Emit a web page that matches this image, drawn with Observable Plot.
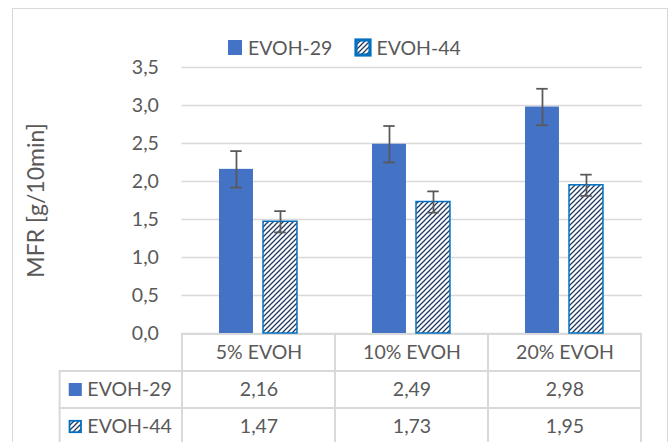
<!DOCTYPE html>
<html>
<head>
<meta charset="utf-8">
<script src="https://cdn.jsdelivr.net/npm/d3@7"></script>
<script src="https://cdn.jsdelivr.net/npm/@observablehq/plot@0.6"></script>
<style>
  html, body { margin: 0; padding: 0; background: white; }
  #wrap { position: relative; width: 671px; height: 442px; overflow: hidden; background: white; }
  #wrap > svg, #wrap > div.layer { position: absolute; left: 0; top: 0; }
  #border { position: absolute; left: 12px; top: 8px; width: 656px; height: 460px; border: 1.5px solid #d9d9d9; box-sizing: border-box; }
  .lg-swatches .lg-swatch { margin-right: 24px; }
  .lg-swatches .lg-swatch > svg { margin-right: 6px; }
</style>
</head>
<body>
<div id="wrap"><div id="border"></div></div>
<script>
const categories = ["5% EVOH", "10% EVOH", "20% EVOH"];
const series = ["EVOH-29", "EVOH-44"];
const evoh29 = [2.16, 2.49, 2.98];
const evoh44 = [1.47, 1.73, 1.95];
const err29 = [0.24, 0.24, 0.24];
const err44 = [0.14, 0.14, 0.14];
const yTicks = [0, 0.5, 1, 1.5, 2, 2.5, 3, 3.5];
const yLabel = "MFR [g/10min]";

const FONT = "Lato, 'Open Sans', sans-serif";
const TEXT = "#595959";
const GRID = "#d9d9d9";
const BLUE = "#4472C4";
const EDGE = "#0070C0";
const comma = (v, n) => v.toFixed(n).replace(".", ",");

const rows29 = categories.map((c, i) => ({cat: c, v: evoh29[i], e: err29[i]}));
const rows44 = categories.map((c, i) => ({cat: c, v: evoh44[i], e: err44[i]}));

const BW = (642 - 181.4) / 3;
const w = 34.5;
const s1 = 37, s2 = 81;
const c1 = s1 + w / 2, c2 = s2 + w / 2;

const chart = Plot.plot({
  width: 671, height: 442,
  marginTop: 67, marginBottom: 109, marginLeft: 181.4, marginRight: 29,
  style: {background: "transparent", fontFamily: FONT, overflow: "visible"},
  x: {type: "band", domain: categories, padding: 0, axis: null},
  y: {domain: [0, 3.5], ticks: yTicks},
  marks: [
    Plot.gridY(yTicks, {stroke: GRID, strokeOpacity: 1, strokeWidth: 1.5}),
    Plot.axisY(yTicks, {tickSize: 0, tickPadding: 23, fontSize: 19.5, fill: TEXT, label: null, tickFormat: d => comma(d, 1)}),
    Plot.text([yLabel], {frameAnchor: "left", textAnchor: "middle", dx: -145, rotate: -90, fontSize: 23, fill: TEXT}),
    Plot.barY(rows29, {x: "cat", y: "v", fill: BLUE, insetLeft: s1, insetRight: BW - s1 - w}),
    Plot.barY(rows44, {x: "cat", y: "v", fill: "url(#hatch)", stroke: EDGE, strokeWidth: 1.5, insetLeft: s2, insetRight: BW - s2 - w}),
    Plot.ruleX(rows29, {x: "cat", y1: d => d.v - d.e, y2: d => d.v + d.e, dx: c1 - BW / 2, stroke: TEXT, strokeWidth: 1.75}),
    Plot.ruleX(rows44, {x: "cat", y1: d => d.v - d.e, y2: d => d.v + d.e, dx: c2 - BW / 2, stroke: TEXT, strokeWidth: 1.75}),
    Plot.tickY(rows29, {x: "cat", y: d => d.v + d.e, insetLeft: c1 - 6, insetRight: BW - c1 - 6, stroke: TEXT, strokeWidth: 1.75}),
    Plot.tickY(rows29, {x: "cat", y: d => d.v - d.e, insetLeft: c1 - 6, insetRight: BW - c1 - 6, stroke: TEXT, strokeWidth: 1.75}),
    Plot.tickY(rows44, {x: "cat", y: d => d.v + d.e, insetLeft: c2 - 6, insetRight: BW - c2 - 6, stroke: TEXT, strokeWidth: 1.75}),
    Plot.tickY(rows44, {x: "cat", y: d => d.v - d.e, insetLeft: c2 - 6, insetRight: BW - c2 - 6, stroke: TEXT, strokeWidth: 1.75})
  ]
});

// hatch pattern
const defs = d3.select(chart).insert("defs", ":first-child");
const P = 5;
const pat = defs.append("pattern").attr("id", "hatch").attr("patternUnits", "userSpaceOnUse")
  .attr("width", P).attr("height", P);
pat.append("rect").attr("width", P).attr("height", P).attr("fill", "white");
pat.append("path").attr("d", `M-1,1 L1,-1 M0,${P} L${P},0 M${P - 1},${P + 1} L${P + 1},${P - 1}`)
  .attr("stroke", "#1F3864").attr("stroke-width", 1.25);

// table
const colKeys = ["", ...categories];
const rowKeys = ["head", ...series];
const headCells = categories.map(c => ({col: c, row: "head", label: c}));
const valCells = series.flatMap((s, si) => categories.map((c, ci) => ({col: c, row: s, label: comma([evoh29, evoh44][si][ci], 2)})));
const rowHeads = series.map(s => ({col: "", row: s, label: s}));
const TBW = BW;
const rh = 37.5;

const table = Plot.plot({
  width: 671, height: 442,
  style: {background: "transparent", fontFamily: FONT},
  x: {type: "band", domain: colKeys, range: [181.4 - TBW, 642], padding: 0, axis: null},
  y: {type: "band", domain: rowKeys, range: [333, 333 + 3 * rh], padding: 0, axis: null},
  marks: [
    Plot.cell([...headCells, ...valCells], {x: "col", y: "row", fill: "white", stroke: GRID, strokeWidth: 2}),
    Plot.cell(rowHeads, {x: "col", y: "row", fill: "white", stroke: GRID, strokeWidth: 2, insetLeft: 58.5 - (181.4 - TBW)}),
    Plot.text([...headCells, ...valCells], {x: "col", y: "row", text: "label", fontSize: 19.5, fill: TEXT}),
    Plot.text(rowHeads, {x: "col", y: "row", text: "label", fontSize: 19.5, fill: TEXT, textAnchor: "start", dx: 86 - (181.4 - TBW / 2)}),
    Plot.cell(rowHeads.slice(0, 1), {x: "col", y: "row", fill: BLUE, insetLeft: 67.6 - (181.4 - TBW), insetRight: 181.4 - 81.2, insetTop: 12, insetBottom: 12}),
    Plot.cell(rowHeads.slice(1), {x: "col", y: "row", fill: "url(#hatch)", stroke: EDGE, strokeWidth: 1.8, insetLeft: 68.4 - (181.4 - TBW), insetRight: 181.4 - 80.4, insetTop: 12.8, insetBottom: 12.8})
  ]
});

const legend = Plot.legend({
  color: {type: "ordinal", domain: series, range: [BLUE, "url(#hatch)"]},
  swatchWidth: 14, swatchHeight: 15, className: "lg",
  style: {fontSize: "19.5px", fontFamily: FONT, color: TEXT}
});
legend.classList.add("layer");
legend.style.left = "228px";
legend.style.top = "31px";
legend.style.margin = "0";
const sw = legend.querySelectorAll("svg rect");
if (sw[1]) { sw[1].setAttribute("stroke", EDGE); sw[1].setAttribute("stroke-width", 3.2); }

const wrap = document.getElementById("wrap");
wrap.appendChild(table);
wrap.appendChild(chart);
wrap.appendChild(legend);
</script>
</body>
</html>
